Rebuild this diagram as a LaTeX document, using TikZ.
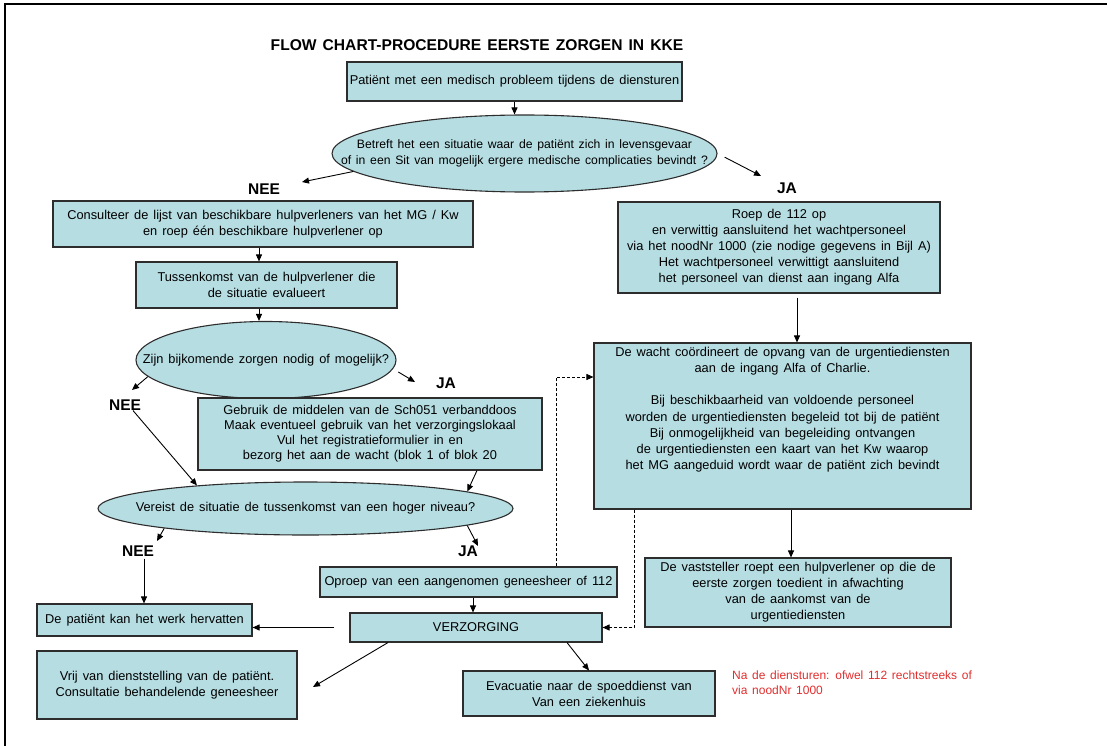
\documentclass[tikz,border=0pt]{standalone}
\usepackage{fontspec}
\setmainfont[WordSpace=1.4]{Liberation Sans}
\usetikzlibrary{arrows.meta,shapes.geometric,calc}
\definecolor{boxfill}{RGB}{182,221,226}
\definecolor{boxline}{RGB}{45,45,45}
\definecolor{redtext}{RGB}{225,45,45}
\begin{document}
\begin{tikzpicture}[x=1pt,y=-1pt,
  box/.style={draw=boxline, fill=boxfill, line width=1.1pt, inner sep=0pt, align=center, font=\fontsize{12.8}{16}\selectfont},
  oval/.style={ellipse, draw=boxline, fill=boxfill, line width=1.1pt, inner sep=0pt},
  ovaltext/.style={align=center, inner sep=0pt, font=\fontsize{12.8}{16}\selectfont},
  lbl/.style={font=\fontsize{15.5}{18}\selectfont\bfseries, inner sep=0pt},
  arr/.style={-{Triangle[length=7pt,width=6pt]}, line width=0.9pt},
  darr/.style={arr, dash pattern=on 3pt off 2pt}
]
\useasboundingbox (0,0) rectangle (1107,746);
\draw[line width=2.5pt] (1107,4) -- (5,4) -- (5,746);

\node[font=\fontsize{15.6}{18}\selectfont\bfseries, inner sep=0pt] (title) at (477,45) {FLOW CHART-PROCEDURE EERSTE ZORGEN IN KKE};

\node[box, minimum width=335, minimum height=39] (b1) at (514.5,81.5) {Patiënt met een medisch probleem tijdens de diensturen};

\node[oval, minimum width=385, minimum height=77,
  label={[ovaltext, font=\fontsize{12.2}{15.5}\selectfont]center:{Betreft het een situatie waar de patiënt zich in levensgevaar\\of in een Sit van mogelijk ergere medische complicaties bevindt ?}}] (e1) at (524.5,153.5) {};

\node[box, minimum width=420, minimum height=46] (cons) at (263,224) {Consulteer de lijst van beschikbare hulpverleners van het MG / Kw\\en roep één beschikbare hulpverlener op};

\node[box, minimum width=322, minimum height=91] (roep) at (779,247.5) {Roep de 112 op\\en verwittig aansluitend het wachtpersoneel\\via het noodNr 1000 (zie nodige gegevens in Bijl A)\\Het wachtpersoneel verwittigt aansluitend\\het personeel van dienst aan ingang Alfa};

\node[box, minimum width=261, minimum height=46] (tuss) at (266.5,285) {Tussenkomst van de hulpverlener die\\de situatie evalueert};

\node[oval, minimum width=260, minimum height=77,
  label={[ovaltext]center:{Zijn bijkomende zorgen nodig of mogelijk?}}] (e2) at (266,360) {};

\node[box, minimum width=344, minimum height=72, font=\fontsize{12.8}{15}\selectfont] (gebr) at (370,434) {Gebruik de middelen van de Sch051 verbanddoos\\Maak eventueel gebruik van het verzorgingslokaal\\Vul het registratieformulier in en\\bezorg het aan de wacht (blok 1 of blok 20};

\node[oval, minimum width=415, minimum height=53,
  label={[ovaltext]center:{Vereist de situatie de tussenkomst van een hoger niveau?}}] (e3) at (305.5,508.5) {};

\node[box, minimum width=377, minimum height=166] (wacht) at (782.5,426) {\parbox[c][158pt][t]{370pt}{\centering\fontsize{12.8}{16.2}\selectfont De wacht coördineert de opvang van de urgentiediensten\\aan de ingang Alfa of Charlie.\\[16.2pt]Bij beschikbaarheid van voldoende personeel\\worden de urgentiediensten begeleid tot bij de patiënt\\Bij onmogelijkheid van begeleiding ontvangen\\de urgentiediensten een kaart van het Kw waarop\\het MG aangeduid wordt waar de patiënt zich bevindt}};

\node[box, minimum width=297, minimum height=30] (opr) at (468.5,582) {Oproep van een aangenomen geneesheer of 112};
\node[box, minimum width=252, minimum height=29] (verz) at (476,627.5) {VERZORGING};
\node[box, minimum width=215, minimum height=32] (pat) at (144.5,620) {De patiënt kan het werk hervatten};
\node[box, minimum width=260, minimum height=68] (vrij) at (167,685) {Vrij van dienststelling van de patiënt.\\Consultatie behandelende geneesheer};
\node[box, minimum width=252, minimum height=45] (evac) at (589,693.5) {Evacuatie naar de spoeddienst van\\Van een ziekenhuis};
\node[box, minimum width=306, minimum height=69] (vast) at (798,592.5) {De vaststeller roept een hulpverlener op die de\\eerste zorgen toedient in afwachting\\van de aankomst van de\\urgentiediensten};

\node[anchor=north west, text=redtext, align=left, font=\fontsize{12}{14.5}\selectfont, inner sep=0pt] (red) at (732,671) {Na de diensturen: ofwel 112 rechtstreeks of\\via noodNr 1000};

% decision labels
\node[lbl] (nee1) at (264,189) {NEE};
\node[lbl] (ja1) at (787,188) {JA};
\node[lbl] (ja2) at (446,383) {JA};
\node[lbl] (nee2) at (125,405) {NEE};
\node[lbl] (nee3) at (138,551) {NEE};
\node[lbl] (ja3) at (468,551) {JA};

% free arrow ends
\coordinate (n1tip) at (302,182);
\coordinate (j1tip) at (761,176);
\coordinate (n2tip) at (132,390);
\coordinate (j2tip) at (415,382);
\coordinate (n3tip) at (157,541);
\coordinate (j3tip) at (478,546);
\coordinate (vrijtip) at (313,687);

% connectors
\draw[arr] (b1.south) -- (b1.south |- e1.north);
\draw[arr] (e1.186) -- (n1tip);
\draw[arr, shorten <=8pt] (e1.east) -- (j1tip);
\draw[arr] ([xshift=-7.5pt]tuss.north |- cons.south) -- ([xshift=-7.5pt]tuss.north);
\draw[arr] ([xshift=-7.5pt]tuss.south) -- ([xshift=-7.5pt]tuss.south |- e2.north);
\draw[arr] (e2.188.5) -- (n2tip);
\draw[arr, shorten <=6pt] (e2.356) -- (j2tip);
\draw[arr] ([xshift=8pt]nee2.south) -- (e3.168);
\draw[arr] ([xshift=107pt]gebr.south) -- (e3.6);
\draw[arr] (e3.188) -- (n3tip);
\draw[arr] (e3.354.5) -- (j3tip);
\draw[arr] ([xshift=6pt,yshift=-2pt]nee3.south) -- ([xshift=6pt]nee3.south |- pat.north);
\draw[arr] ([xshift=-3pt]verz.north |- opr.south) -- ([xshift=-3pt]verz.north);
\draw[arr, shorten <=15pt] (verz.west) -- (pat.east |- verz.west);
\draw[arr] ([xshift=-88pt]verz.south) -- (vrijtip);
\draw[arr] ([xshift=91pt]verz.south) -- (evac.north);
\draw[arr, shorten <=4pt] ([xshift=14.5pt]wacht.north |- roep.south) -- ([xshift=14.5pt]wacht.north);
\draw[arr] ([xshift=-7pt]vast.north |- wacht.south) -- ([xshift=-7pt]vast.north);
\draw[darr] ([xshift=88pt]opr.north) |- ([yshift=49pt]wacht.west);
\draw[darr] ([xshift=41pt]wacht.south west) |- (verz.east);
\end{tikzpicture}
\end{document}
